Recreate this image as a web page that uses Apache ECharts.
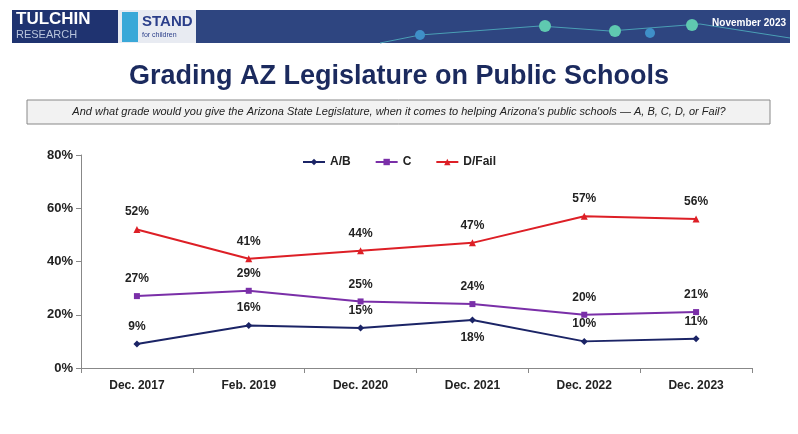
<!DOCTYPE html>
<html>
<head>
<meta charset="utf-8">
<script src="https://cdn.jsdelivr.net/npm/echarts@6/dist/echarts.min.js"></script>
<style>
  html, body { margin: 0; padding: 0; background: #fff; }
  #chart { width: 798px; height: 434px; }
</style>
</head>
<body>
<div id="chart"></div>
<script>
var categories = ['Dec. 2017', 'Feb. 2019', 'Dec. 2020', 'Dec. 2021', 'Dec. 2022', 'Dec. 2023'];
var abValues = [9, 16, 15, 18, 10, 11];
var cValues = [27, 29, 25, 24, 20, 21];
var dValues = [52, 41, 44, 47, 57, 56];
// label below the point for these A/B entries
var abBelow = [false, false, false, true, false, false];

var chart = echarts.init(document.getElementById('chart'));

var font = 'Liberation Sans, Arial, sans-serif';

function labelStyle(pos) {
  return { show: true, position: pos, formatter: '{c}%', color: '#222', fontWeight: 'bold', fontSize: 12, fontFamily: font, distance: 8 };
}

var option = {
  animation: false,
  graphic: [
    // header band
    { type: 'rect', shape: { x: 12, y: 10, width: 778, height: 33 }, style: { fill: '#2e4580' } },
    { type: 'rect', shape: { x: 12, y: 10, width: 106, height: 33 }, style: { fill: '#1f3370' } },
    { type: 'text', left: 16, top: 11, style: { text: 'TULCHIN', fill: '#fff', font: 'bold 17px ' + font } },
    { type: 'text', left: 16, top: 29, style: { text: 'RESEARCH', fill: '#b8c4dc', font: '11px ' + font } },
    { type: 'rect', shape: { x: 118, y: 10, width: 78, height: 33 }, style: { fill: '#e8ebf2' } },
    { type: 'rect', shape: { x: 122, y: 12, width: 16, height: 30 }, style: { fill: '#3aa8d8' } },
    { type: 'text', left: 142, top: 14, style: { text: 'STAND', fill: '#2b3f8a', font: 'bold 15px ' + font } },
    { type: 'text', left: 142, top: 32, style: { text: 'for children', fill: '#2b3f8a', font: '7px ' + font } },
    { type: 'polyline', shape: { points: [[380, 43], [420, 35], [540, 26], [610, 31], [700, 24], [790, 38]] }, style: { stroke: '#4a9fb5', lineWidth: 1, fill: null } },
    { type: 'circle', shape: { cx: 420, cy: 35, r: 5 }, style: { fill: '#3f8fc8' } },
    { type: 'circle', shape: { cx: 545, cy: 26, r: 6 }, style: { fill: '#5fc9b0' } },
    { type: 'circle', shape: { cx: 615, cy: 31, r: 6 }, style: { fill: '#5fc9b0' } },
    { type: 'circle', shape: { cx: 650, cy: 33, r: 5 }, style: { fill: '#3f8fc8' } },
    { type: 'circle', shape: { cx: 692, cy: 25, r: 6 }, style: { fill: '#5fc9b0' } },
    { type: 'text', right: 12, top: 18, style: { text: 'November 2023', fill: '#fff', font: 'bold 10px ' + font } },
    // question box
    { type: 'rect', shape: { x: 27, y: 100, width: 743, height: 24 }, style: { fill: '#f2f2f2', stroke: '#888', lineWidth: 1 } },
    { type: 'text', left: 'center', top: 106, style: { text: "And what grade would you give the Arizona State Legislature, when it comes to helping Arizona's public schools \u2014 A, B, C, D, or Fail?", fill: '#222', font: 'italic 11px ' + font } }
  ],
  title: {
    text: 'Grading AZ Legislature on Public Schools',
    left: 'center',
    top: 58,
    textStyle: { color: '#1b2a5e', fontSize: 27, fontWeight: 'bold', fontFamily: font }
  },
  legend: {
    top: 151,
    left: 'center',
    itemGap: 24,
    itemWidth: 22,
    itemHeight: 8,
    textStyle: { fontWeight: 'bold', fontSize: 12, color: '#222', fontFamily: font },
    data: ['A/B', 'C', 'D/Fail']
  },
  grid: { left: 81, right: 46, top: 155, bottom: 66 },
  xAxis: {
    type: 'category',
    data: categories,
    axisLine: { lineStyle: { color: '#888' } },
    axisTick: { show: true, lineStyle: { color: '#888' } },
    axisLabel: { color: '#222', fontWeight: 'bold', fontSize: 12, fontFamily: font, margin: 12 }
  },
  yAxis: {
    type: 'value',
    min: 0,
    max: 80,
    interval: 20,
    axisLine: { show: true, lineStyle: { color: '#888' } },
    axisTick: { show: true, lineStyle: { color: '#888' } },
    splitLine: { show: false },
    axisLabel: { formatter: '{value}%', color: '#222', fontWeight: 'bold', fontSize: 13, fontFamily: font }
  },
  series: [
    {
      name: 'A/B', type: 'line', data: abValues.map(function (v, i) {
        return { value: v, label: labelStyle(abBelow[i] ? 'bottom' : 'top') };
      }),
      symbol: 'diamond', symbolSize: 7,
      lineStyle: { color: '#1b2466', width: 2 }, itemStyle: { color: '#1b2466' }
    },
    {
      name: 'C', type: 'line', data: cValues, label: labelStyle('top'),
      symbol: 'rect', symbolSize: 6,
      lineStyle: { color: '#7a2fa8', width: 2 }, itemStyle: { color: '#7a2fa8' }
    },
    {
      name: 'D/Fail', type: 'line', data: dValues, label: labelStyle('top'),
      symbol: 'triangle', symbolSize: 7,
      lineStyle: { color: '#dd1f26', width: 2 }, itemStyle: { color: '#dd1f26' }
    }
  ]
};

chart.setOption(option);
</script>
</body>
</html>
